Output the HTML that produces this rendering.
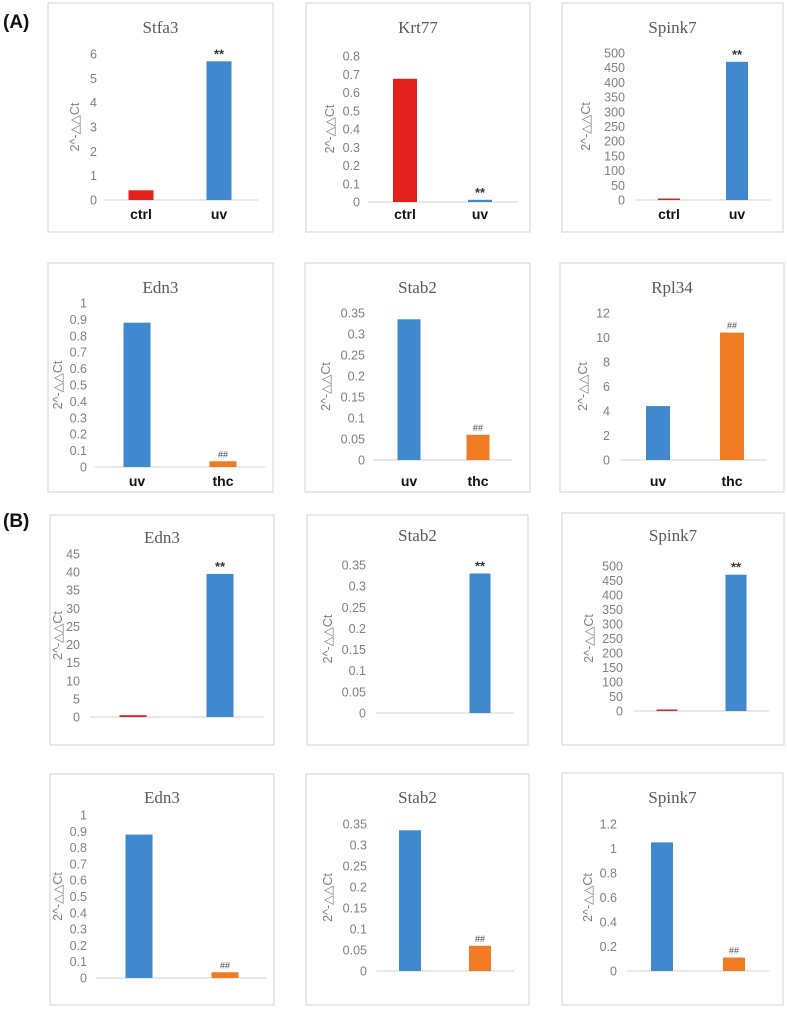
<!DOCTYPE html>
<html><head><meta charset="utf-8">
<style>
body{margin:0;background:#fff;}
svg{display:block;font-family:"Liberation Sans",sans-serif;}
.box{fill:#fff;stroke:#d9d9d9;stroke-width:1.2}
.title{font-family:"Liberation Serif","Noto Serif CJK SC",serif;font-size:17px;fill:#595959}
.tick{font-size:12.5px;fill:#7f7f7f}
.ytitle{font-size:12.5px;fill:#7f7f7f}
.cat{font-size:14px;font-weight:bold;fill:#111}
.star{font-size:13px;font-weight:bold;fill:#333}
.hash{font-size:9px;fill:#444}
</style></head>
<body>
<svg id="fig" width="787" height="1011" viewBox="0 0 787 1011"></svg>
<script>
// ---- data ----
const catsCtrlUv = ["ctrl","uv"];
const catsUvThc = ["uv","thc"];
const stfa3Values = [0.4, 5.7];
const krt77Values = [0.675, 0.012];
const spink7Values = [5, 470];
const edn3Values = [0.88, 0.035];
const stab2Values = [0.335, 0.06];
const rpl34Values = [4.4, 10.4];
const bEdn3Values = [0.5, 39.5];
const bStab2Values = [0, 0.33];
const bSpink7Values = [5, 470];
const cEdn3Values = [0.88, 0.035];
const cStab2Values = [0.335, 0.06];
const cSpink7Values = [1.05, 0.11];
const ticksStfa3 = ["0","1","2","3","4","5","6"];
const ticksKrt77 = ["0","0.1","0.2","0.3","0.4","0.5","0.6","0.7","0.8"];
const ticksSpink7 = ["0","50","100","150","200","250","300","350","400","450","500"];
const ticksEdn3 = ["0","0.1","0.2","0.3","0.4","0.5","0.6","0.7","0.8","0.9","1"];
const ticksStab2 = ["0","0.05","0.1","0.15","0.2","0.25","0.3","0.35"];
const ticksRpl34 = ["0","2","4","6","8","10","12"];
const ticksBEdn3 = ["0","5","10","15","20","25","30","35","40","45"];
const ticksSpink7c = ["0","0.2","0.4","0.6","0.8","1","1.2"];

const RED="#e3201b", BLUE="#4189cf", ORANGE="#f07b22";
const charts = [
 {name:"stfa3",title:"Stfa3",box:[48,3,225,229],ty:33,y0:200,yTop:54,ticks:ticksStfa3,tr:97,yt:79,ax:[104,258],cx:[141,219],bw:25,vals:stfa3Values,cols:[RED,BLUE],cats:catsCtrlUv,cy:219,ann:[null,"**"]},
 {name:"krt77",title:"Krt77",box:[306,3,224,229],ty:33,y0:202,yTop:56,ticks:ticksKrt77,tr:360,yt:334,ax:[368,518],cx:[405,480],bw:24,vals:krt77Values,cols:[RED,BLUE],cats:catsCtrlUv,cy:219,ann:[null,"**"]},
 {name:"spink7",title:"Spink7",box:[562,3,221,229],ty:33,y0:200,yTop:53,ticks:ticksSpink7,tr:625,yt:590,ax:[635,771],cx:[669,737],bw:22,vals:spink7Values,cols:[RED,BLUE],cats:catsCtrlUv,cy:219,ann:[null,"**"]},
 {name:"edn3-a",title:"Edn3",box:[48,263,225,229],ty:293,y0:467,yTop:303,ticks:ticksEdn3,tr:87,yt:62,ax:[95,265],cx:[137,223],bw:27,vals:edn3Values,cols:[BLUE,ORANGE],cats:catsUvThc,cy:486,ann:[null,"##"]},
 {name:"stab2-a",title:"Stab2",box:[305,263,225,229],ty:293,y0:460,yTop:313,ticks:ticksStab2,tr:365,yt:330,ax:[373,512],cx:[409,478],bw:23,vals:stab2Values,cols:[BLUE,ORANGE],cats:catsUvThc,cy:486,ann:[null,"##"]},
 {name:"rpl34",title:"Rpl34",box:[560,263,224,229],ty:293,y0:460,yTop:313,ticks:ticksRpl34,tr:610,yt:587,ax:[620,767],cx:[658,732],bw:24,vals:rpl34Values,cols:[BLUE,ORANGE],cats:catsUvThc,cy:486,ann:[null,"##"]},
 {name:"edn3-b",title:"Edn3",box:[50,515,224,230],ty:543,y0:717,yTop:554,ticks:ticksBEdn3,tr:80,yt:62,ax:[90,264],cx:[133,220],bw:27,vals:bEdn3Values,cols:[RED,BLUE],cats:null,ann:[null,"**"]},
 {name:"stab2-b",title:"Stab2",box:[307,515,221,230],ty:541,y0:713,yTop:565,ticks:ticksStab2,tr:366,yt:332,ax:[376,514],cx:[407,480],bw:21,vals:bStab2Values,cols:[RED,BLUE],cats:null,ann:[null,"**"]},
 {name:"spink7-b",title:"Spink7",box:[562,513,222,232],ty:541,y0:711,yTop:566,ticks:ticksSpink7,tr:623,yt:593,ax:[634,769],cx:[667,736],bw:21,vals:bSpink7Values,cols:[RED,BLUE],cats:null,ann:[null,"**"]},
 {name:"edn3-c",title:"Edn3",box:[50,774,224,231],ty:803,y0:978,yTop:815,ticks:ticksEdn3,tr:87,yt:62,ax:[96,267],cx:[139,225],bw:27,vals:cEdn3Values,cols:[BLUE,ORANGE],cats:null,ann:[null,"##"]},
 {name:"stab2-c",title:"Stab2",box:[306,774,223,231],ty:803,y0:971,yTop:824,ticks:ticksStab2,tr:367,yt:332,ax:[376,514],cx:[410,480],bw:22,vals:cStab2Values,cols:[BLUE,ORANGE],cats:null,ann:[null,"##"]},
 {name:"spink7-c",title:"Spink7",box:[562,773,221,232],ty:803,y0:971,yTop:824,ticks:ticksSpink7c,tr:617,yt:592,ax:[627,769],cx:[662,734],bw:22,vals:cSpink7Values,cols:[BLUE,ORANGE],cats:null,ann:[null,"##"]}
];

const NS="http://www.w3.org/2000/svg";
const svg=document.getElementById("fig");
function mk(tag,attrs,parent,text){const e=document.createElementNS(NS,tag);for(const k in attrs)e.setAttribute(k,attrs[k]);if(text!==undefined)e.textContent=text;(parent||svg).appendChild(e);return e;}

function lbl(t,x,y,n){const e=mk("text",{x:x,y:y,"font-size":19,"font-weight":"bold",fill:"#111"},null,t);

}
lbl("(A)",3,28,"panel-a-label");
lbl("(B)",3,527,"panel-b-label");

charts.forEach(c=>{
  const g=mk("g",{});
  
  
  const [bx,by,bw,bh]=c.box;
  const r=mk("rect",{x:bx,y:by,width:bw,height:bh,class:"box"},g);
  
  
  const t=mk("text",{x:bx+bw/2,y:c.ty,"text-anchor":"middle",class:"title"},g,c.title);
  
  
  const max=parseFloat(c.ticks[c.ticks.length-1]);
  const yS=v=>c.y0-v/max*(c.y0-c.yTop);
  c.ticks.forEach(tk=>{
    const tx=mk("text",{x:c.tr,y:yS(parseFloat(tk))+4.5,"text-anchor":"end",class:"tick"},g,tk);
    
    
  });
  const ym=(c.y0+c.yTop)/2;
  const yt=mk("text",{x:c.yt,y:ym,"text-anchor":"middle",class:"ytitle",transform:`rotate(-90 ${c.yt} ${ym})`},g,"2^-△△Ct");
  
  
  const ax=mk("line",{x1:c.ax[0],x2:c.ax[1],y1:c.y0,y2:c.y0,stroke:"#d9d9d9","stroke-width":1.2},g);
  
  
  c.vals.forEach((v,i)=>{
    const yTopBar=yS(v);
    const h=Math.max(c.y0-yTopBar, v>0?1.5:0);
    const b=mk("rect",{x:c.cx[i]-c.bw/2,y:c.y0-h,width:c.bw,height:h,fill:c.cols[i]},g);
    
    
    if(c.ann[i]){
      const isStar=c.ann[i]==="**";
      const a=mk("text",{x:c.cx[i],y:c.y0-h-(isStar?3:4),"text-anchor":"middle",class:isStar?"star":"hash"},g,c.ann[i]);
      
      
    }
    if(c.cats){
      const cl=mk("text",{x:c.cx[i],y:c.cy,"text-anchor":"middle",class:"cat"},g,c.cats[i]);
      
      
    }
  });
});
</script>
</body></html>
